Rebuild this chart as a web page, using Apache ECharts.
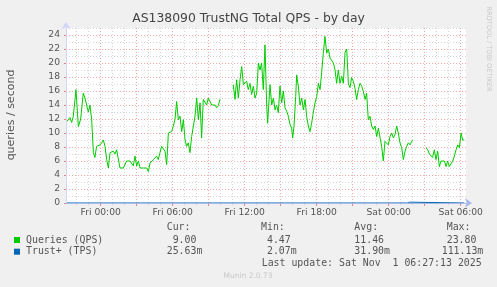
<!DOCTYPE html>
<html><head><meta charset="utf-8">
<script src="https://cdn.jsdelivr.net/npm/echarts@6/dist/echarts.min.js"></script>
<style>html,body{margin:0;padding:0;background:#F0F0F0}#c{width:497px;height:287px}</style>
</head><body><div id="c"></div>
<script>
// hours relative to Fri 00:00
const hours = [-2.84,-2.56,-2.42,-2.28,-2.06,-1.86,-1.67,-1.45,-1.31,-1.17,-1.03,-0.89,-0.75,-0.61,-0.48,-0.34,-0.20,-0.06,0.08,0.22,0.36,0.50,0.64,0.78,1.05,1.19,1.33,1.47,1.61,1.89,2.03,2.16,2.44,2.58,2.72,2.86,3.00,3.14,3.28,3.55,3.83,3.97,4.11,4.25,4.39,4.53,4.66,4.80,4.94,5.08,5.22,5.36,5.50,5.64,5.78,5.91,6.05,6.19,6.33,6.47,6.61,6.75,6.89,7.03,7.16,7.30,7.44,7.58,7.72,7.86,8.00,8.14,8.28,8.41,8.55,8.69,8.83,8.97,9.11,9.25,9.39,9.53,9.66,9.80,9.94,10.50,
11.05,11.19,11.33,11.47,11.61,11.75,11.89,12.03,12.16,12.30,12.44,12.58,12.72,12.86,13.00,13.14,13.28,13.41,13.55,13.69,13.83,13.91,14.11,14.25,14.39,14.53,14.66,14.80,14.94,15.08,15.22,15.36,15.50,15.64,15.78,15.91,16.00,16.11,16.25,16.33,16.47,16.61,16.75,16.89,17.03,17.16,17.30,17.44,17.58,17.72,17.86,18.00,18.14,18.28,18.41,18.55,18.69,18.83,18.97,19.11,19.25,19.39,19.53,19.66,19.80,19.94,20.08,20.22,20.36,20.50,20.64,20.78,
20.91,21.05,21.19,21.33,21.47,21.61,21.75,21.89,22.03,22.16,22.30,22.44,22.58,22.72,22.86,23.00,23.14,23.28,23.41,23.55,23.69,23.83,23.97,24.11,24.25,24.39,24.53,24.66,24.80,24.94,25.08,25.22,25.36,25.50,25.64,25.78,25.92,26.00,26.50,
27.11,27.25,27.39,27.53,27.66,27.80,27.94,28.08,28.22,28.36,28.50,28.64,28.78,28.91,29.05,29.19,29.33,29.47,29.61,29.75,29.89,30.03,30.16,30.30];
const qps = [11.6,12.2,11.5,12.4,16.2,10.9,12.0,15.7,15.0,15.1,13.0,14.0,11.9,7.2,6.5,8.1,7.9,8.3,8.6,9.0,8.1,6.2,5.0,7.2,7.4,7.0,7.6,7.4,5.0,5.0,5.0,6.0,6.0,6.2,5.3,6.7,5.3,6.0,5.0,5.0,5.0,4.5,5.7,5.5,6.2,6.0,6.7,6.2,7.2,8.1,7.9,7.4,5.5,10.0,10.0,10.2,11.0,11.9,14.5,11.9,12.4,10.2,11.9,9.0,8.1,8.6,7.2,9.5,9.5,12.4,15.0,11.9,14.3,9.3,14.8,15.0,14.0,15.0,14.8,14.0,14.0,14.0,13.6,13.9,14.8,null,
16.9,14.8,17.6,15.0,17.6,19.5,16.9,16.7,17.4,16.2,17.1,15.5,16.7,15.0,15.7,20.0,19.0,20.0,16.2,22.6,14.0,11.4,16.9,14.0,15.0,13.3,14.0,12.9,16.7,14.3,16.0,13.6,13.1,12.4,11.2,10.7,9.3,11.0,15.2,18.3,16.7,14.0,15.0,13.3,14.8,12.4,11.0,10.2,11.4,13.0,14.3,15.2,17.1,16.2,18.6,21.4,23.8,21.4,22.0,20.7,20.9,20.0,19.0,17.1,19.0,17.1,18.1,17.1,21.5,22.0,17.0,16.5,
17.9,17.4,16.4,14.8,16.2,17.1,16.7,15.9,14.8,15.7,11.9,12.4,11.0,10.5,11.0,9.5,10.7,10.5,8.1,6.0,8.8,9.0,8.3,9.5,10.0,9.3,9.8,11.0,10.0,8.6,7.9,6.2,7.4,8.1,8.6,8.3,8.8,9.0,null,
7.9,7.6,7.0,7.2,6.5,7.6,6.2,7.4,5.2,6.0,6.0,6.0,5.2,6.0,5.2,5.0,6.0,6.7,7.6,8.3,7.9,10.0,9.0,9.0];
const tpsHours = [-2.84,2.19,2.25,2.31,13.27,13.33,13.39,22.05,22.11,22.17,24.60,24.66,24.72,25.58,25.64,25.70,25.76,25.82,30.30];
const tps = [0,0,0.12,0,0,0.12,0,0,0.12,0,0,0.12,0,0,0.12,0,0.12,0,0];
const minorX = [-2,-1,1,2,4,5,7,8,10,11,13,14,16,17,19,20,22,23,25,26,28,29];
const majorX = [0,3,6,9,12,15,18,21,24,27,30];
const labelX = [0,6,12,18,24,30];
const minorY = [1,3,5,7,9,11,13,15,17,19,21,23,25];
const majorY = [0,2,4,6,8,10,12,14,16,18,20,22,24];
const X_MIN = -2.89, X_MAX = 30.44;

function fmtHour(h){
  const d = h < 0 ? 'Thu' : (h < 24 ? 'Fri' : 'Sat');
  const hh = ((h % 24) + 24) % 24;
  return d + ' ' + String(hh).padStart(2,'0') + ':00';
}
const AX = '#CFD6F8';
const chart = echarts.init(document.getElementById('c'), null, {renderer:'canvas'});
const base = {type:'value', min:X_MIN, max:X_MAX, position:'bottom', gridIndex:0};
const ybase = {type:'value', min:0, max:25, position:'left', gridIndex:0};
chart.setOption({
  animation:false,
  backgroundColor:'#F0F0F0',
  grid:{left:66, top:28, width:400, height:175, show:true, backgroundColor:'#FFFFFF', borderWidth:0},
  xAxis:[
    Object.assign({}, base, {z:10, axisLine:{show:true,onZero:false,lineStyle:{color:'#a6b8e8',width:1},symbol:['none','arrow'],symbolSize:[7,7],symbolOffset:[0,6]}, axisTick:{show:false}, axisLabel:{show:false}, splitLine:{show:false}}),
    Object.assign({}, base, {axisLine:{show:false,onZero:false}, axisTick:{show:true,length:2,inside:false,customValues:minorX,lineStyle:{color:'#d0d0d0'}}, axisLabel:{show:false}, splitLine:{show:true,lineStyle:{color:'#d6d6d6',type:[1,2],width:1}}}),
    Object.assign({}, base, {axisLine:{show:false,onZero:false}, axisTick:{show:true,length:3,customValues:majorX,lineStyle:{color:'#f08080'}}, axisLabel:{show:true,customValues:labelX,formatter:fmtHour,margin:5,fontFamily:'DejaVu Sans',fontSize:9.2,color:'#555'}, splitLine:{show:true,lineStyle:{color:'#f0a8a8',type:[1,2],width:1}}})
  ],
  yAxis:[
    Object.assign({}, ybase, {z:10, axisLine:{show:true,onZero:false,lineStyle:{color:AX,width:1},symbol:['none','arrow'],symbolSize:[7,7],symbolOffset:[0,6]}, axisTick:{show:false}, axisLabel:{show:false}, splitLine:{show:false}}),
    Object.assign({}, ybase, {axisLine:{show:false,onZero:false}, axisTick:{show:false,customValues:minorY}, axisLabel:{show:false}, splitLine:{show:true,lineStyle:{color:'#d6d6d6',type:[1,2],width:1}}}),
    Object.assign({}, ybase, {axisLine:{show:false,onZero:false}, axisTick:{show:true,length:2,customValues:majorY,lineStyle:{color:'#f08080'}}, axisLabel:{show:true,customValues:majorY,margin:6,fontFamily:'DejaVu Sans',fontSize:9.2,color:'#555'}, splitLine:{show:true,lineStyle:{color:'#f0a8a8',type:[1,2],width:1}}})
  ],
  series:[
    {type:'line', name:'Trust+ (TPS)', xAxisIndex:0, yAxisIndex:0, data:tpsHours.map((h,i)=>[h,tps[i]]), showSymbol:false, symbol:'none', lineStyle:{color:'#0066b3',width:1}, z:2},
    {type:'line', name:'Queries (QPS)', xAxisIndex:0, yAxisIndex:0, data:hours.map((h,i)=>[h,qps[i]]), showSymbol:false, symbol:'none', connectNulls:false, lineStyle:{color:'#00cc00',width:1}, z:3}
  ],
  graphic:[
    {type:'text', left:'center', top:12.5, style:{text:'AS138090 TrustNG Total QPS - by day', font:'12.4px "DejaVu Sans"', fill:'#444'}},
    {type:'text', x:11, y:115, rotation:Math.PI/2, style:{text:'queries / second', font:'11px "DejaVu Sans"', fill:'#555', align:'center', verticalAlign:'middle'}},
    {type:'text', x:488.5, y:49, rotation:-Math.PI/2, style:{text:'RRDTOOL / TOBI OETIKER', font:'6.6px "DejaVu Sans"', fill:'#c8c8c8', align:'center', verticalAlign:'middle'}},
    {type:'rect', shape:{x:14,y:237,width:6,height:6}, style:{fill:'#00cc00'}},
    {type:'rect', shape:{x:14,y:248.7,width:6,height:6}, style:{fill:'#0066b3'}},
    {type:'text', x:166.7, y:227.5, style:{text:'Cur:', font:'9.9px "DejaVu Sans Mono"', fill:'#555', verticalAlign:'middle'}},
    {type:'text', x:261, y:227.5, style:{text:'Min:', font:'9.9px "DejaVu Sans Mono"', fill:'#555', verticalAlign:'middle'}},
    {type:'text', x:354.3, y:227.5, style:{text:'Avg:', font:'9.9px "DejaVu Sans Mono"', fill:'#555', verticalAlign:'middle'}},
    {type:'text', x:446.7, y:227.5, style:{text:'Max:', font:'9.9px "DejaVu Sans Mono"', fill:'#555', verticalAlign:'middle'}},
    {type:'text', x:26, y:240, style:{text:'Queries (QPS)', font:'9.9px "DejaVu Sans Mono"', fill:'#555', verticalAlign:'middle'}},
    {type:'text', x:166.7, y:240, style:{text:' 9.00', font:'9.9px "DejaVu Sans Mono"', fill:'#555', verticalAlign:'middle'}},
    {type:'text', x:261, y:240, style:{text:' 4.47', font:'9.9px "DejaVu Sans Mono"', fill:'#555', verticalAlign:'middle'}},
    {type:'text', x:354.3, y:240, style:{text:'11.46', font:'9.9px "DejaVu Sans Mono"', fill:'#555', verticalAlign:'middle'}},
    {type:'text', x:446.7, y:240, style:{text:'23.80', font:'9.9px "DejaVu Sans Mono"', fill:'#555', verticalAlign:'middle'}},
    {type:'text', x:26, y:251.8, style:{text:'Trust+ (TPS)', font:'9.9px "DejaVu Sans Mono"', fill:'#555', verticalAlign:'middle'}},
    {type:'text', x:166.7, y:251.8, style:{text:'25.63m', font:'9.9px "DejaVu Sans Mono"', fill:'#555', verticalAlign:'middle'}},
    {type:'text', x:261, y:251.8, style:{text:' 2.07m', font:'9.9px "DejaVu Sans Mono"', fill:'#555', verticalAlign:'middle'}},
    {type:'text', x:354.3, y:251.8, style:{text:'31.90m', font:'9.9px "DejaVu Sans Mono"', fill:'#555', verticalAlign:'middle'}},
    {type:'text', x:441.7, y:251.8, style:{text:'111.13m', font:'9.9px "DejaVu Sans Mono"', fill:'#555', verticalAlign:'middle'}},
    {type:'text', x:261.7, y:263.5, style:{text:'Last update: Sat Nov  1 06:27:13 2025', font:'9.9px "DejaVu Sans Mono"', fill:'#555', verticalAlign:'middle'}},
    {type:'text', x:248, y:276, style:{text:'Munin 2.0.73', font:'7.5px "DejaVu Sans"', fill:'#c8c8c8', align:'center', verticalAlign:'middle'}}
  ]
});
</script></body></html>
